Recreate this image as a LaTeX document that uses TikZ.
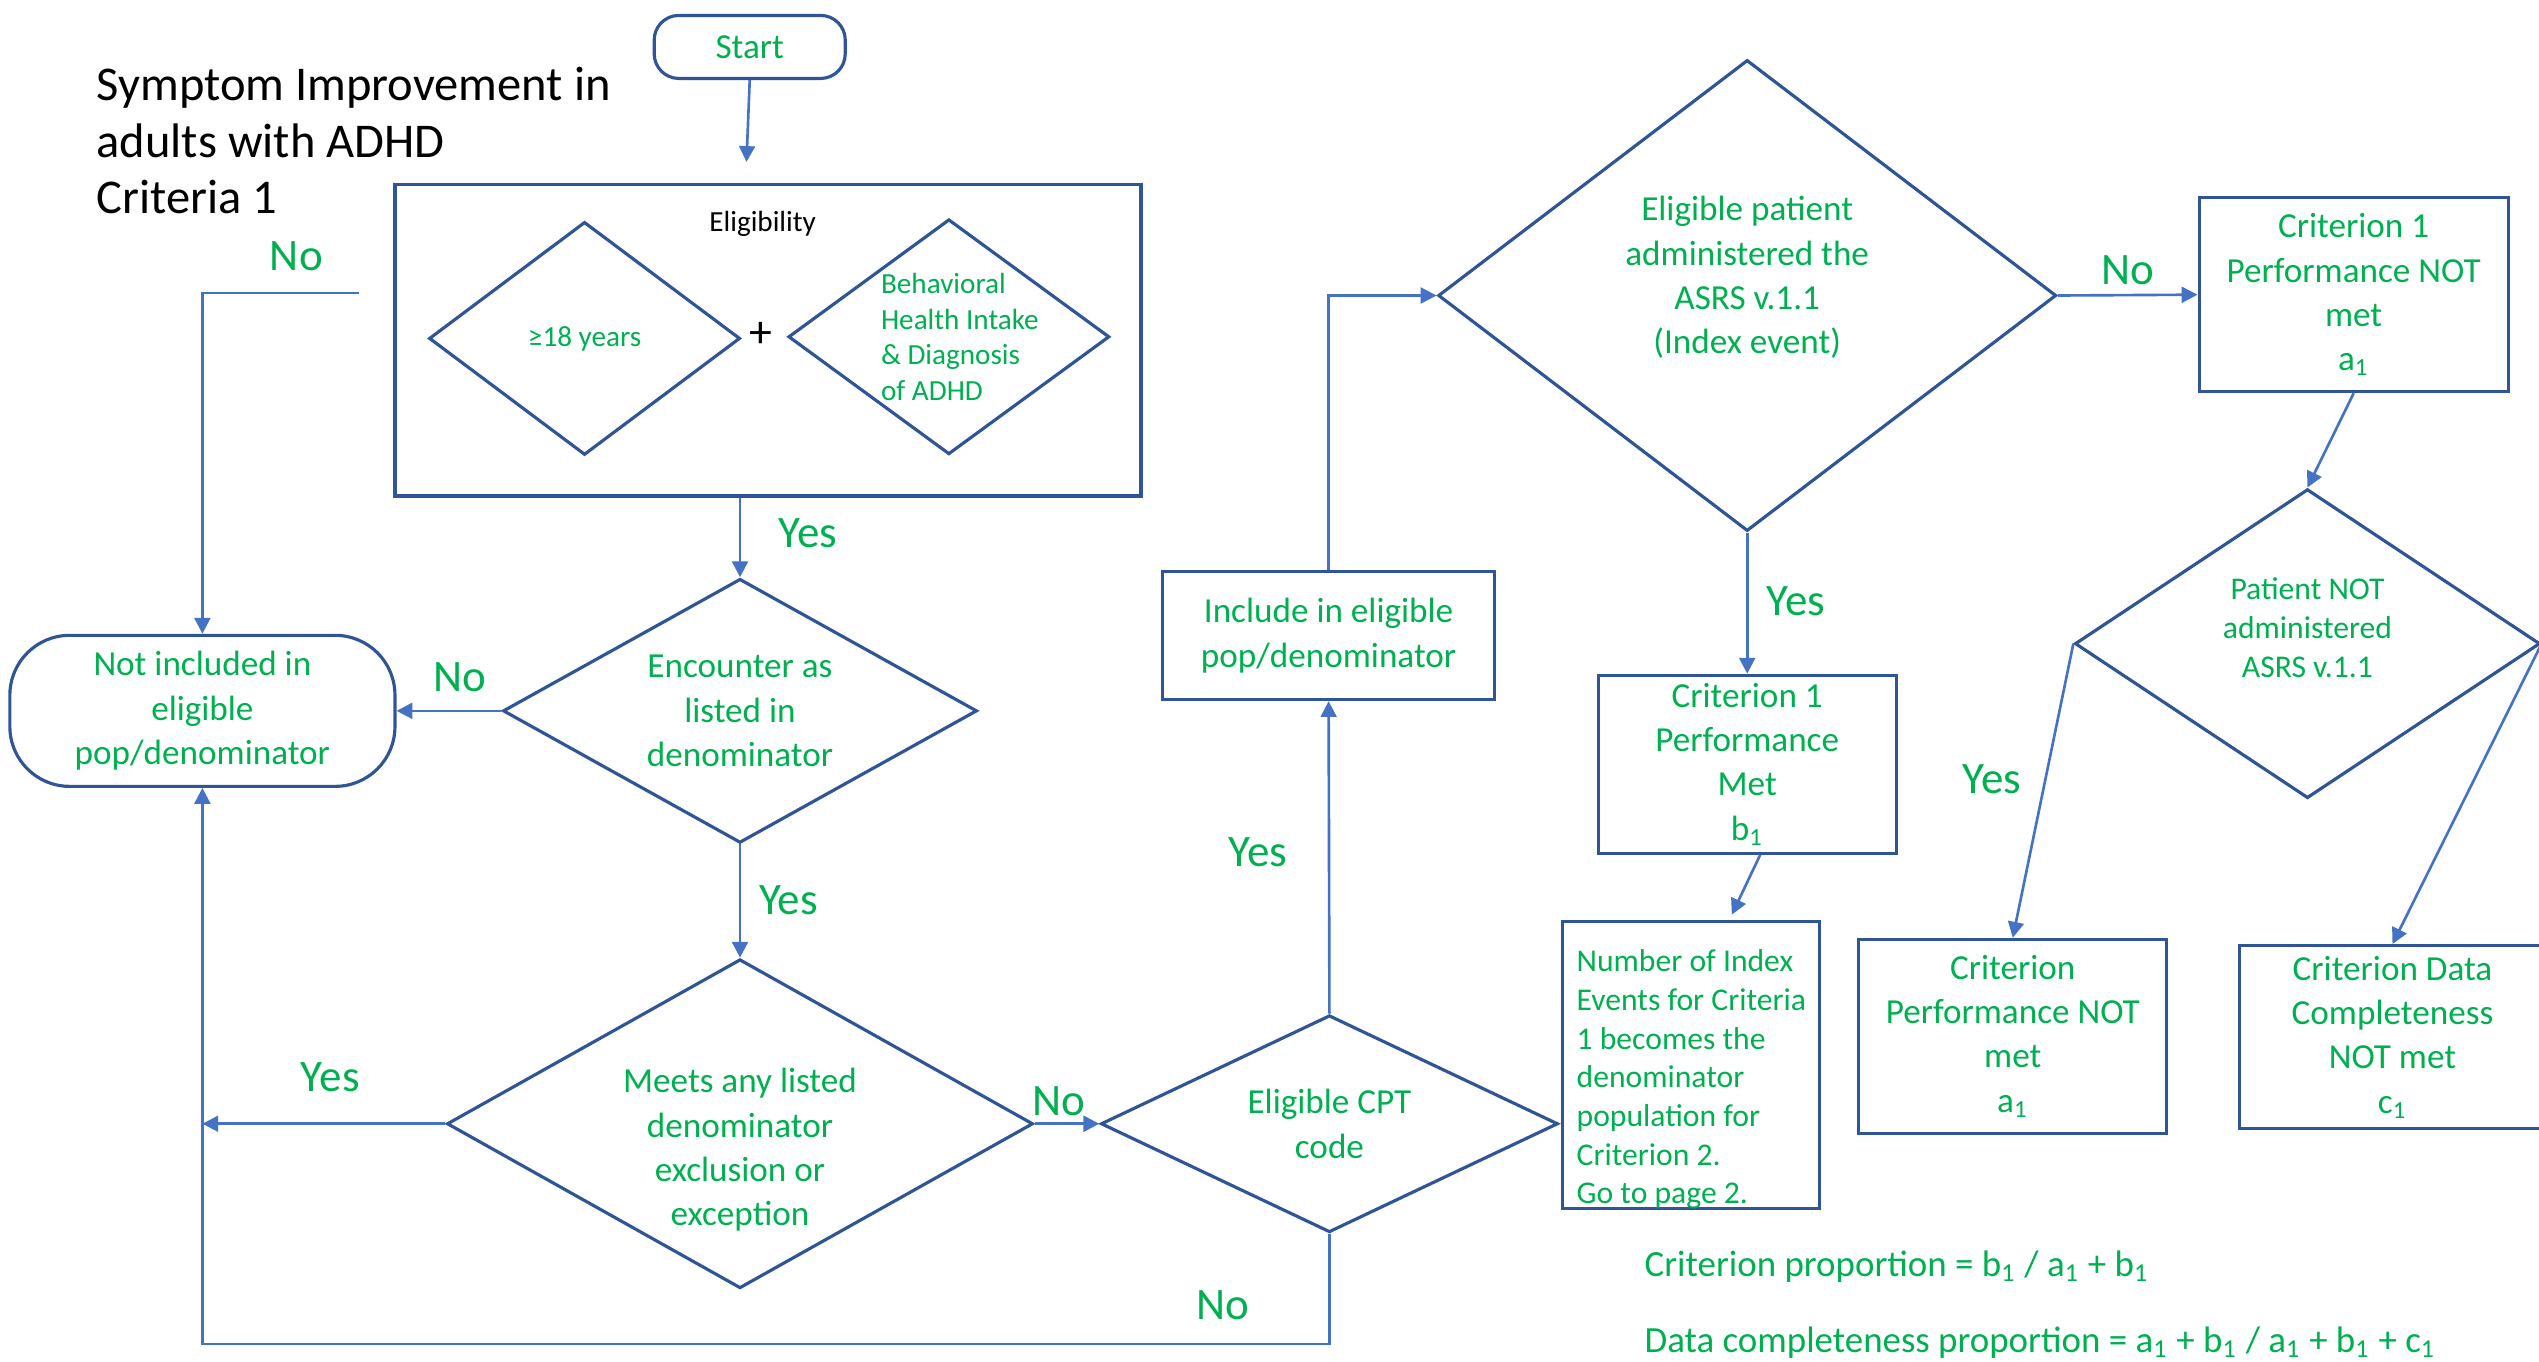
\documentclass[tikz,border=0pt]{standalone}
\usepackage{fontspec}
\setmainfont{Carlito}
\usetikzlibrary{arrows.meta, positioning, calc, shapes.geometric}
\definecolor{FCGreen}{HTML}{00B050}
\definecolor{FCBlue}{HTML}{2F5597}
\definecolor{FCLine}{HTML}{4472C4}

\begin{document}
\begin{tikzpicture}[
    % 以参考图像素为单位, y 轴向下
    x=0.01619cm, y=-0.01619cm,
    font=\fontsize{10}{12.6}\selectfont,
    % 样式定义
    box/.style={
        draw=FCBlue,
        line width=0.9pt,
        text=FCGreen,
        align=center,
        inner sep=1pt
    },
    decision/.style={box, diamond, inner sep=0pt},
    terminal/.style={box, rounded corners=7pt},
    smalltext/.style={font=\fontsize{8.3}{10.1}\selectfont},
    inlabel/.style={text=FCGreen, align=center},
    answer/.style={text=FCGreen, font=\fontsize{12.8}{15}\selectfont},
    conn/.style={-{Triangle[length=4.5pt, width=4.5pt]}, line width=0.75pt, FCLine}
]
    \useasboundingbox (0,0) rectangle (1568,841);

    % ====== 1. 标题与起点 ======
    \node[anchor=west, align=left, font=\fontsize{13.8}{16.1}\selectfont] (title) at (52,87)
        {Symptom Improvement in\\adults with ADHD\\Criteria 1};
    \node[terminal, minimum width=1.91cm, minimum height=0.63cm] (start) at (463,29) {Start};
    \coordinate (startend) at (461,100);
    \draw[conn] (start.south) -- (startend);

    % ====== 2. 资格框 (两个条件) ======
    \node[box, line width=1.1pt, minimum width=7.46cm, minimum height=3.11cm] (elig) at (474.5,210) {};
    \node[smalltext] (eligtitle) at (471,138) {Eligibility};
    \node[decision, smalltext, minimum width=3.11cm, minimum height=2.33cm, aspect=1.33] (age) at (361,209) {≥18 years};
    \node[font=\fontsize{13}{15}\selectfont] (plus) at (470,207) {+};
    \node[decision, minimum width=3.21cm, minimum height=2.35cm,
          label={[smalltext, inlabel, align=left, xshift=0.11cm]center:{Behavioral\\Health Intake\\\& Diagnosis\\of ADHD}}] (bh) at (586,208) {};

    % ====== 3. 左列: 分母判断 ======
    \node[terminal, rounded corners=17pt, minimum width=3.85cm, minimum height=1.51cm] (notinc) at (125,439)
        {Not included in\\eligible\\pop/denominator};
    \node[decision, minimum width=4.74cm, minimum height=2.64cm, aspect=1.8] (enc) at (457,439)
        {Encounter as\\listed in\\denominator};
    \node[decision, minimum width=5.86cm, minimum height=3.29cm,
          label={[inlabel, yshift=-0.26cm]center:{Meets any listed\\denominator\\exclusion or\\exception}}] (meets) at (457,694) {};

    \coordinate (eligno) at (222,181);
    \draw[conn] (eligno) -| (notinc.north);
    \node[answer] (noelig) at (183,158) {No};

    \draw[conn] (enc.north |- elig.south) -- (enc.north);
    \node[answer] (yeselig) at (499,329) {Yes};

    \draw[conn] (enc.west) -- (notinc.east);
    \node[answer] (noenc) at (284,418) {No};

    \draw[conn] (enc.south) -- (meets.north);
    \node[answer] (yesenc) at (487,556) {Yes};

    \draw[conn] (meets.west) -- (meets.west -| notinc.south);
    \node[answer] (yesmeets) at (204,665) {Yes};

    % ====== 4. 中间: CPT 与纳入 ======
    \node[decision, minimum width=4.57cm, minimum height=2.17cm, aspect=2.1] (cpt) at (821,694)
        {Eligible CPT\\code};
    \node[box, minimum width=3.32cm, minimum height=1.28cm] (incl) at (820.5,392.5)
        {Include in eligible\\pop/denominator};

    \draw[conn] (meets.east) -- (cpt.west);
    \node[answer] (nomeets) at (654,680) {No};

    \coordinate (lowturn) at (821,830);
    \draw[conn] (cpt.south) -- (lowturn) -| (notinc.south);
    \node[answer] (nocpt) at (755,806) {No};

    \draw[conn] (cpt.north) -- (incl.south);
    \node[answer] (yescpt) at (777,526) {Yes};

    % ====== 5. 右侧: ASRS 指标事件 ======
    \node[decision, minimum width=6.18cm, minimum height=4.71cm,
          label={[inlabel, yshift=0.18cm]center:{Eligible patient\\administered the\\ASRS v.1.1\\(Index event)}}] (asrs) at (1079,182.5) {};
    \node[box, minimum width=3.09cm, minimum height=1.94cm] (critnot) at (1453.5,182)
        {Criterion 1\\Performance NOT\\met\\a\textsubscript{1}};
    \node[box, minimum width=2.98cm, minimum height=1.78cm] (critmet) at (1079,472)
        {Criterion 1\\Performance\\Met\\b\textsubscript{1}};
    \node[box, minimum width=2.57cm, minimum height=2.87cm,
          label={[inlabel, align=left, yshift=-0.15cm, font=\fontsize{9}{11}\selectfont]center:{Number of Index\\Events for Criteria\\1 becomes the\\denominator\\population for\\Criterion 2.\\Go to page 2.}}] (index) at (1044.5,657.5) {};

    \draw[conn] (incl.north) |- (asrs.west);
    \draw[conn] (asrs.east) -- (critnot.west);
    \node[answer] (noasrs) at (1314,167) {No};
    \draw[conn] (asrs.south) -- (critmet.north);
    \node[answer] (yesasrs) at (1109,371) {Yes};
    \draw[conn] ($(critmet.south)+(8,0)$) -- ($(index.north)+(25,-3)$);

    % ====== 6. 最右: 未施测 ======
    \node[decision, minimum width=4.65cm, minimum height=3.09cm,
          label={[inlabel, yshift=0.16cm, font=\fontsize{9}{11}\selectfont]center:{Patient NOT\\administered\\ASRS v.1.1}}] (patnot) at (1425,397.5) {};
    \node[box, minimum width=3.08cm, minimum height=1.94cm] (perfnot) at (1243,640)
        {Criterion\\Performance NOT\\met\\a\textsubscript{1}};
    \node[box, minimum width=3.06cm, minimum height=1.83cm] (datanot) at (1477.5,640.5)
        {Criterion Data\\Completeness\\NOT met\\c\textsubscript{1}};

    \draw[conn] (critnot.south) -- (patnot.north);
    \draw[conn] (patnot.west) -- (perfnot.north);
    \node[answer] (yespat) at (1230,481) {Yes};
    \draw[conn] (patnot.east) -- (datanot.north);

    % ====== 7. 比例公式 ======
    \node[anchor=west, text=FCGreen, font=\fontsize{10.5}{12}\selectfont] (propcrit) at (1008,782)
        {Criterion proportion = b\textsubscript{1} / a\textsubscript{1} + b\textsubscript{1}};
    \node[anchor=west, text=FCGreen, font=\fontsize{10.5}{12}\selectfont] (propdata) at (1008,829)
        {Data completeness proportion = a\textsubscript{1} + b\textsubscript{1} / a\textsubscript{1} + b\textsubscript{1} + c\textsubscript{1}};

\end{tikzpicture}
\end{document}
